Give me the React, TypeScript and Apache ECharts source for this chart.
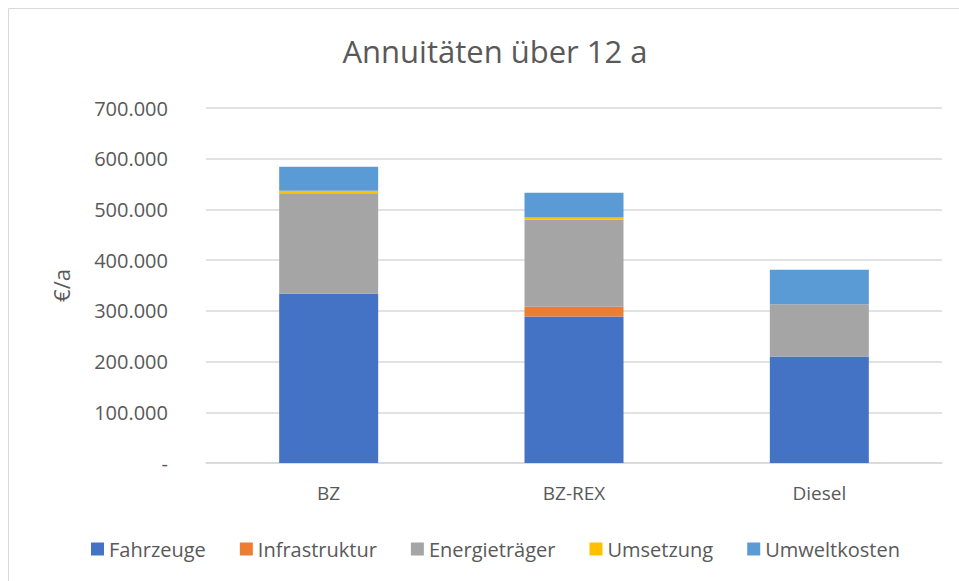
import React, { useEffect, useRef } from "react";
import * as echarts from "echarts";

const categories = ["BZ", "BZ-REX", "Diesel"];
const seriesNames = ["Fahrzeuge", "Infrastruktur", "Energieträger", "Umsetzung", "Umweltkosten"];
const fahrzeuge = [334000, 289000, 210000];
const infrastruktur = [0, 19000, 0];
const energietraeger = [198000, 172000, 103000];
const umsetzung = [5000, 4000, 0];
const umweltkosten = [47000, 49000, 68000];
const colors = ["#4472C4", "#ED7D31", "#A5A5A5", "#FFC000", "#5B9BD5"];
const yTicks = [0, 100000, 200000, 300000, 400000, 500000, 600000, 700000];

const fmt = (v: number) => (v === 0 ? "-" : (v / 1000).toFixed(0) + ".000");

export default function App() {
  const ref = useRef<HTMLDivElement>(null);
  useEffect(() => {
    if (!ref.current) return;
    const chart = echarts.init(ref.current, null, { renderer: "svg" });
    const values = [fahrzeuge, infrastruktur, energietraeger, umsetzung, umweltkosten];
    const font = "'Open Sans', sans-serif";
    chart.setOption({
      animation: false,
      backgroundColor: "#ffffff",
      textStyle: { fontFamily: font },
      graphic: [
        {
          type: "rect",
          shape: { x: 8.5, y: 8.5, width: 1000, height: 1000 },
          style: { fill: "none", stroke: "#d9d9d9", lineWidth: 1 },
          silent: true,
        },
      ],
      title: {
        text: "Annuitäten über 12 a",
        left: 490,
        textAlign: "center",
        top: 30,
        textStyle: { fontFamily: font, fontSize: 31, fontWeight: "normal", color: "#595959" },
      },
      legend: {
        data: seriesNames,
        top: 534,
        left: 86,
        icon: "rect",
        itemWidth: 13,
        itemHeight: 13,
        itemGap: 34,
        textStyle: { fontFamily: font, fontSize: 20, color: "#595959" },
      },
      grid: { left: 206, right: 17, top: 108, bottom: 118 },
      xAxis: {
        type: "category",
        data: categories,
        axisTick: { show: false },
        axisLine: { lineStyle: { color: "#d9d9d9", width: 1.5 } },
        axisLabel: { fontFamily: font, fontSize: 19, color: "#595959", margin: 20 },
      },
      yAxis: {
        type: "value",
        min: 0,
        max: yTicks[yTicks.length - 1],
        interval: 100000,
        name: "€/a",
        nameLocation: "middle",
        nameGap: 134,
        nameRotate: 90,
        nameTextStyle: { fontFamily: font, fontSize: 22, color: "#595959" },
        axisLine: { show: false },
        axisTick: { show: false },
        splitLine: { lineStyle: { color: "#d9d9d9", width: 1.5 } },
        axisLabel: { fontFamily: font, fontSize: 20, color: "#595959", margin: 38, formatter: fmt },
      },
      series: seriesNames.map((name, i) => ({
        name,
        type: "bar",
        stack: "total",
        barWidth: 99,
        data: values[i],
        itemStyle: { color: colors[i] },
      })),
    });
    return () => chart.dispose();
  }, []);
  return (
    <div
      ref={ref}
      style={{ position: "absolute", left: 0, top: 0, width: 959, height: 581 }}
    />
  );
}
